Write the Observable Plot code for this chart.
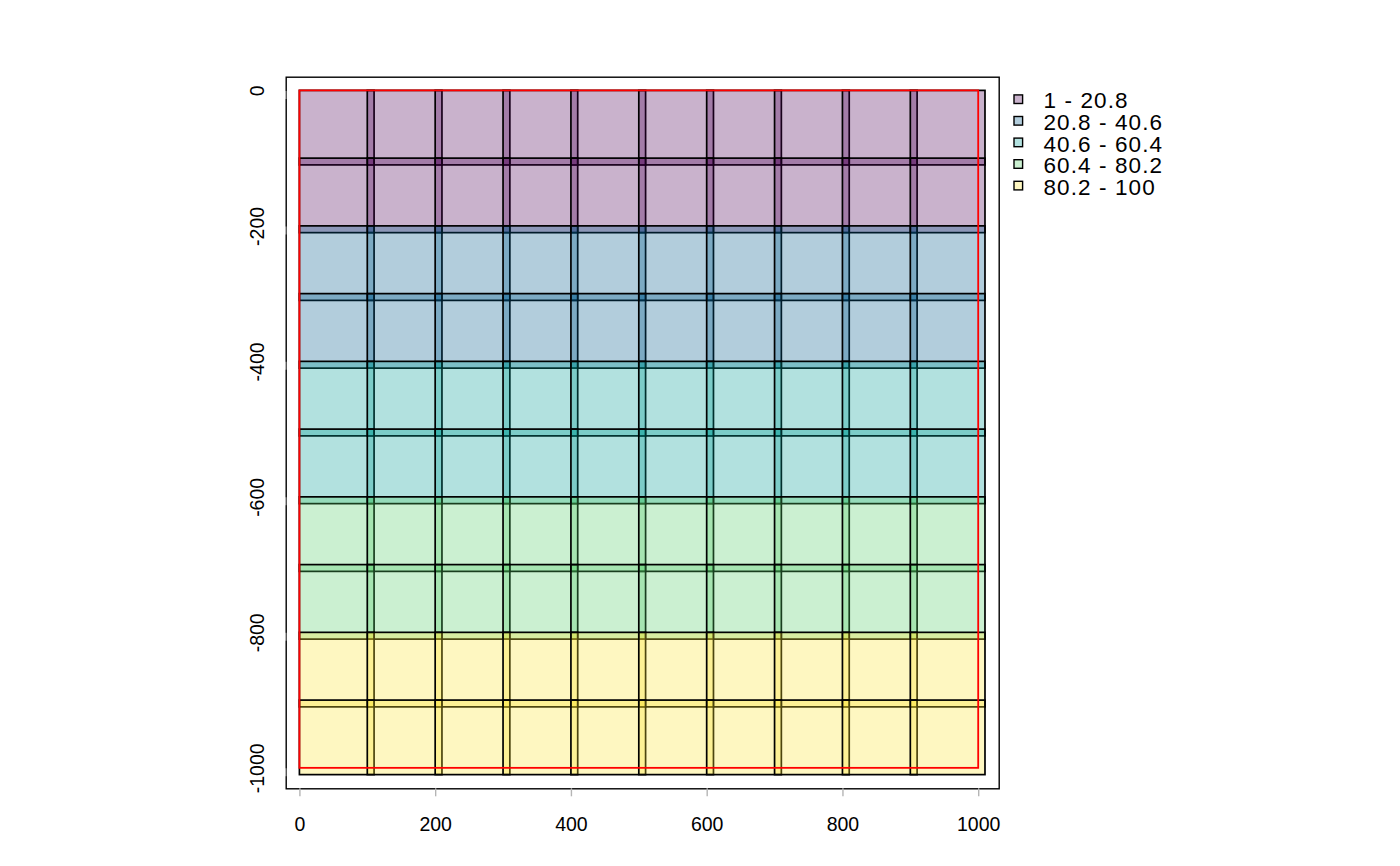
<!DOCTYPE html>
<html>
<head>
<meta charset="utf-8">
<script src="https://cdn.jsdelivr.net/npm/d3@7"></script>
<script src="https://cdn.jsdelivr.net/npm/@observablehq/plot@0.6"></script>
<style>
  html, body { margin: 0; padding: 0; background: #fff; }
  #chart svg { display: block; }
</style>
</head>
<body>
<div id="chart"></div>
<script>
// Grid cell origins (left x, top y) and cell size in data units
const colStarts = [0, 100, 200, 300, 400, 500, 600, 700, 800, 900];
const rowTops = [0, -100, -200, -300, -400, -500, -600, -700, -800, -900];
const cellSize = 110;

// Cell values, one row of ten per grid row (top to bottom)
const row0 = [1, 2, 3, 4, 5, 6, 7, 8, 9, 10];
const row1 = [11, 12, 13, 14, 15, 16, 17, 18, 19, 20];
const row2 = [21, 22, 23, 24, 25, 26, 27, 28, 29, 30];
const row3 = [31, 32, 33, 34, 35, 36, 37, 38, 39, 40];
const row4 = [41, 42, 43, 44, 45, 46, 47, 48, 49, 50];
const row5 = [51, 52, 53, 54, 55, 56, 57, 58, 59, 60];
const row6 = [61, 62, 63, 64, 65, 66, 67, 68, 69, 70];
const row7 = [71, 72, 73, 74, 75, 76, 77, 78, 79, 80];
const row8 = [81, 82, 83, 84, 85, 86, 87, 88, 89, 90];
const row9 = [91, 92, 93, 94, 95, 96, 97, 98, 99, 100];
const cellRows = [row0, row1, row2, row3, row4, row5, row6, row7, row8, row9];

// Classification
const breaks = [20.8, 40.6, 60.4, 80.2];
const classColors = ["#4B0055", "#00588B", "#009B95", "#53CC67", "#FDE333"];
const legendLabels = ["1 - 20.8", "20.8 - 40.6", "40.6 - 60.4", "60.4 - 80.2", "80.2 - 100"];

// Extent rectangle (red)
const extent = [{x1: 0, x2: 1000, y1: -1000, y2: 0}];

// Axis ticks
const xTicks = [0, 200, 400, 600, 800, 1000];
const yTicks = [0, -200, -400, -600, -800, -1000];

const cells = [];
cellRows.forEach((row, r) => {
  row.forEach((v, c) => {
    cells.push({x1: colStarts[c], x2: colStarts[c] + cellSize, y1: rowTops[r] - cellSize, y2: rowTops[r], value: v});
  });
});

const font = "'Liberation Sans', Arial, Helvetica, sans-serif";
const W = 1400, H = 866;
const mL = 285.7, mT = 76.7, mR = W - 998.7, mB = H - 788.3;

const plot = Plot.plot({
  width: W,
  height: H,
  marginLeft: mL,
  marginRight: mR,
  marginTop: mT,
  marginBottom: mB,
  style: {fontFamily: font, fontSize: "19.5px", color: "#000", background: "#fff"},
  x: {domain: [-20.2, 1030.2]},
  y: {domain: [-1030.2, 20.2]},
  color: {type: "threshold", domain: breaks, range: classColors},
  marks: [
    Plot.rect(cells, {x1: "x1", x2: "x2", y1: "y1", y2: "y2", fill: "value", fillOpacity: 0.3, stroke: "#000", strokeWidth: 1.7}),
    Plot.rect(extent, {x1: "x1", x2: "x2", y1: "y1", y2: "y2", fill: "none", stroke: "#ff0000", strokeWidth: 1.8}),
    Plot.frame({stroke: "#000", strokeWidth: 1.4}),
    Plot.axisX({ticks: xTicks, tickSize: 8, tickPadding: 20, stroke: "#b5b5b5", strokeWidth: 1.4, tickFormat: d => String(d), label: null, fontSize: 19.5}),
    Plot.axisY({ticks: yTicks, tickSize: 8, tickPadding: 20, stroke: "#b5b5b5", strokeWidth: 1.4, tickFormat: d => String(d), label: null, rotate: -90, textAnchor: "middle", fontSize: 19.5})
  ]
});

document.getElementById("chart").appendChild(plot);

// Legend (top-right, outside the plot frame)
const svg = d3.select(plot);
const lg = svg.append("g")
  .style("font-family", font)
  .style("font-size", "22.5px")
  .style("letter-spacing", "1.1px");
legendLabels.forEach((lab, i) => {
  const cy = 99.2 + i * 21.6;
  lg.append("rect")
    .attr("x", 1014).attr("y", cy - 4.3).attr("width", 8.6).attr("height", 8.6)
    .attr("fill", classColors[i]).attr("fill-opacity", 0.3)
    .attr("stroke", "#000").attr("stroke-width", 1.4);
  lg.append("text")
    .attr("x", 1043.5).attr("y", cy + 1).attr("dy", "0.36em")
    .style("text-anchor", "start")
    .attr("fill", "#000")
    .text(lab);
});
</script>
</body>
</html>
